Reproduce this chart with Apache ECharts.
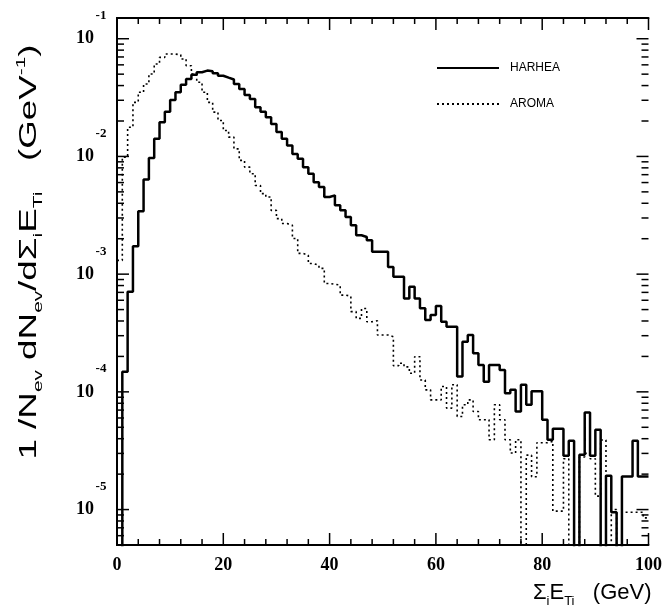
<!DOCTYPE html>
<html>
<head>
<meta charset="utf-8">
<script src="https://cdn.jsdelivr.net/npm/echarts/dist/echarts.min.js"></script>
<style>
html,body{margin:0;padding:0;background:#fff;}
#chart{width:665px;height:616px;}
</style>
</head>
<body>
<div id="chart"></div>
<script>
// bin lower edges (GeV), 1 GeV bins from 0 to 100
const binLow = Array.from({length: 100}, (_, i) => i);

// HARHEA histogram (0 = empty bin)
const harhea = [
  0, 1.48e-4, 7.08e-4, 1.73e-3, 3.42e-3, 6.38e-3, 9.68e-3, 1.41e-2, 1.95e-2, 2.40e-2,
  3.02e-2, 3.51e-2, 4.07e-2, 4.55e-2, 4.95e-2, 5.19e-2, 5.36e-2, 5.30e-2, 5.08e-2, 4.85e-2,
  4.67e-2, 4.50e-2, 4.13e-2, 3.74e-2, 3.33e-2, 3.08e-2, 2.62e-2, 2.40e-2, 2.15e-2, 1.89e-2,
  1.61e-2, 1.41e-2, 1.24e-2, 1.05e-2, 9.55e-3, 8.11e-3, 7.12e-3, 6.05e-3, 5.49e-3, 4.52e-3,
  4.67e-3, 3.84e-3, 3.49e-3, 3.06e-3, 2.60e-3, 2.14e-3, 2.07e-3, 1.94e-3, 1.55e-3, 1.55e-3,
  1.55e-3, 1.15e-3, 9.49e-4, 9.49e-4, 6.22e-4, 7.81e-4, 6.22e-4, 5.12e-4, 4.07e-4, 4.49e-4,
  5.36e-4, 3.94e-4, 3.57e-4, 3.57e-4, 1.35e-4, 2.67e-4, 3.04e-4, 2.13e-4, 1.69e-4, 1.22e-4,
  1.69e-4, 1.69e-4, 1.53e-4, 9.75e-5, 1.04e-4, 6.81e-5, 1.15e-4, 7.76e-5, 1.01e-4, 1.01e-4,
  5.80e-5, 3.92e-5, 4.85e-5, 4.85e-5, 2.87e-5, 3.85e-5, 0, 2.92e-5, 6.68e-5, 2.87e-5,
  4.76e-5, 0, 1.94e-5, 9.48e-6, 0, 1.91e-5, 1.91e-5, 3.85e-5, 1.91e-5, 1.91e-5
];

// AROMA histogram (0 = empty bin)
const aroma = [
  1.31e-3, 9.86e-3, 1.77e-2, 2.88e-2, 3.51e-2, 4.13e-2, 5.02e-2, 6.10e-2, 6.95e-2, 7.41e-2,
  7.41e-2, 7.30e-2, 6.73e-2, 5.90e-2, 5.02e-2, 4.27e-2, 3.51e-2, 2.88e-2, 2.38e-2, 2.02e-2,
  1.66e-2, 1.46e-2, 1.16e-2, 9.25e-3, 8.12e-3, 7.13e-3, 5.67e-3, 4.83e-3, 4.52e-3, 3.48e-3,
  2.96e-3, 2.69e-3, 2.60e-3, 2.01e-3, 1.50e-3, 1.45e-3, 1.23e-3, 1.19e-3, 1.12e-3, 8.34e-4,
  8.20e-4, 8.07e-4, 6.64e-4, 6.50e-4, 4.80e-4, 4.21e-4, 5.10e-4, 3.94e-4, 4.02e-4, 3.04e-4,
  3.04e-4, 2.94e-4, 1.67e-4, 1.75e-4, 1.63e-4, 1.44e-4, 1.99e-4, 1.26e-4, 1.04e-4, 8.55e-5,
  8.55e-5, 1.11e-4, 7.28e-5, 1.15e-4, 6.18e-5, 7.76e-5, 8.55e-5, 6.81e-5, 5.80e-5, 5.80e-5,
  3.92e-5, 7.76e-5, 5.80e-5, 3.92e-5, 3.02e-5, 3.92e-5, 0, 2.90e-5, 1.90e-5, 3.70e-5,
  3.70e-5, 3.80e-5, 9.70e-6, 9.70e-6, 2.70e-5, 0, 0, 2.80e-5, 3.00e-5, 2.70e-5,
  1.30e-5, 3.90e-5, 0, 1.00e-5, 0, 9.50e-6, 9.50e-6, 9.50e-6, 9.50e-6, 8.50e-6
];

const seriesNames = ['HARHEA', 'AROMA'];
const xMajorStep = 20, xMinorStep = 4;
const minorMultipliers = [2, 3, 4, 5, 6, 7, 8, 9];
const yMin = 5e-6, yMax = 0.15;
const EMPTY = 1e-9; // an empty bin on the log scale (falls below the frame and is clipped)

function stepData(vals) {
  const d = vals.map((v, i) => [binLow[i], v > 0 ? v : EMPTY]);
  d.push([binLow[binLow.length - 1] + 1, d[d.length - 1][1]]);
  return d;
}

// tick positions (axis values)
const xTickData = [];
for (let v = 0; v <= 100; v += xMinorStep) xTickData.push([v, yMin]);
const yTickData = [];
for (let e = -6; e <= -1; e++) {
  for (const m of [1].concat(minorMultipliers)) {
    const v = m * Math.pow(10, e);
    if (v > yMin && v < yMax) yTickData.push([0, v, m === 1 ? 1 : 0]);
  }
}

const serif = 'Liberation Serif';
const sans = 'Liberation Sans';

const chart = echarts.init(document.getElementById('chart'), null, {renderer: 'canvas'});

const axisLineStyle = {show: true, lineStyle: {color: '#000', width: 2}};
const xCommon = {
  type: 'value', min: 0, max: 100, interval: xMajorStep,
  axisLine: axisLineStyle, axisTick: {show: false}, minorTick: {show: false},
  splitLine: {show: false}
};
const yCommon = {
  type: 'log', logBase: 10, min: yMin, max: yMax,
  axisLine: axisLineStyle, axisTick: {show: false}, minorTick: {show: false},
  splitLine: {show: false}
};

function yLabel(v) {
  const e = Math.log10(v);
  const r = Math.round(e);
  if (Math.abs(e - r) > 1e-6) return '';
  return '{sp| }{e|' + r + '}\n{b|10}{sp2| }\n{g| }';
}

const tickStyle = {stroke: '#000', lineWidth: 1.5};

const option = {
  backgroundColor: '#fff',
  animation: false,
  grid: {left: 117, top: 18, right: 15, bottom: 71, show: false},
  legend: {
    data: seriesNames, orient: 'vertical', left: 436, top: 62, padding: 0,
    itemWidth: 62, itemHeight: 14, itemGap: 24,
    itemStyle: {opacity: 0, color: 'rgba(0,0,0,0)', borderWidth: 0},
    textStyle: {fontFamily: sans, fontSize: 12, color: '#000', padding: [0, 0, 0, 6]},
    selectedMode: false
  },
  xAxis: [
    Object.assign({}, xCommon, {
      position: 'bottom',
      axisLabel: {show: true, margin: 11, color: '#000', fontFamily: serif, fontWeight: 'bold', fontSize: 18}
    }),
    Object.assign({}, xCommon, {position: 'top', axisLabel: {show: false}})
  ],
  yAxis: [
    Object.assign({}, yCommon, {
      position: 'left',
      axisLabel: {
        show: true, margin: 9, color: '#000', formatter: yLabel,
        rich: {
          sp: {width: 18, fontSize: 12},
          e: {width: 14, fontSize: 13, lineHeight: 30, fontFamily: serif, fontWeight: 'bold', color: '#000', align: 'left'},
          b: {width: 18, fontSize: 18, lineHeight: 16, fontFamily: serif, fontWeight: 'bold', color: '#000', align: 'right'},
          sp2: {width: 14, fontSize: 12},
          g: {lineHeight: 30, fontSize: 12}
        }
      }
    }),
    Object.assign({}, yCommon, {position: 'right', axisLabel: {show: false}})
  ],
  series: [
    {
      name: seriesNames[0], type: 'line', step: 'end', data: stepData(harhea),
      xAxisIndex: 0, yAxisIndex: 0, symbol: 'none', clip: true,
      lineStyle: {color: '#000', width: 2.5}, itemStyle: {color: '#000'}, z: 3
    },
    {
      name: seriesNames[1], type: 'line', step: 'end', data: stepData(aroma),
      xAxisIndex: 0, yAxisIndex: 0, symbol: 'none', clip: true,
      lineStyle: {color: '#000', width: 1.6, type: [2, 3]}, itemStyle: {color: '#000'}, z: 2
    },
    {
      name: 'xTicks', type: 'custom', xAxisIndex: 0, yAxisIndex: 0,
      data: xTickData, encode: {x: 0, y: 1}, silent: true, z: 4,
      renderItem: function (params, api) {
        const x = api.value(0);
        const len = (x % xMajorStep === 0) ? 12 : 6;
        const pb = api.coord([x, yMin]);
        const pt = api.coord([x, yMax]);
        return {type: 'group', children: [
          {type: 'line', shape: {x1: pb[0], y1: pb[1], x2: pb[0], y2: pb[1] - len}, style: tickStyle},
          {type: 'line', shape: {x1: pt[0], y1: pt[1], x2: pt[0], y2: pt[1] + len}, style: tickStyle}
        ]};
      }
    },
    {
      name: 'yTicks', type: 'custom', xAxisIndex: 0, yAxisIndex: 0,
      data: yTickData, encode: {x: 0, y: 1}, silent: true, z: 4,
      renderItem: function (params, api) {
        const v = api.value(1);
        const len = api.value(2) ? 12 : 7;
        const pl = api.coord([0, v]);
        const pr = api.coord([100, v]);
        return {type: 'group', children: [
          {type: 'line', shape: {x1: pl[0], y1: pl[1], x2: pl[0] + len, y2: pl[1]}, style: tickStyle},
          {type: 'line', shape: {x1: pr[0], y1: pr[1], x2: pr[0] - len, y2: pr[1]}, style: tickStyle}
        ]};
      }
    }
  ],
  graphic: [
    {
      type: 'text', x: 30, y: 252, rotation: Math.PI / 2, scaleX: 1.6, scaleY: 1.0,
      style: {
        text: '1 /N{s|ev} dN{s|ev}/dΣ{s|i}E{s|Ti}   (GeV{p|-1})',
        font: '23px ' + sans, fill: '#000',
        align: 'center', verticalAlign: 'middle', textAlign: 'center', textVerticalAlign: 'middle',
        rich: {
          s: {fontSize: 13, fontFamily: sans, verticalAlign: 'bottom', lineHeight: 30, fill: '#000'},
          p: {fontSize: 13, fontFamily: sans, verticalAlign: 'top', lineHeight: 30, fill: '#000'}
        }
      }
    },
    {
      type: 'text', x: 533, y: 593,
      style: {
        text: 'Σ{s|i}E{s|Ti}   (GeV)',
        font: '22px ' + sans, fill: '#000',
        align: 'left', verticalAlign: 'middle', textAlign: 'left', textVerticalAlign: 'middle',
        rich: {
          s: {fontSize: 13, fontFamily: sans, verticalAlign: 'bottom', lineHeight: 30, fill: '#000'}
        }
      }
    }
  ]
};
chart.setOption(option);
</script>
</body>
</html>
